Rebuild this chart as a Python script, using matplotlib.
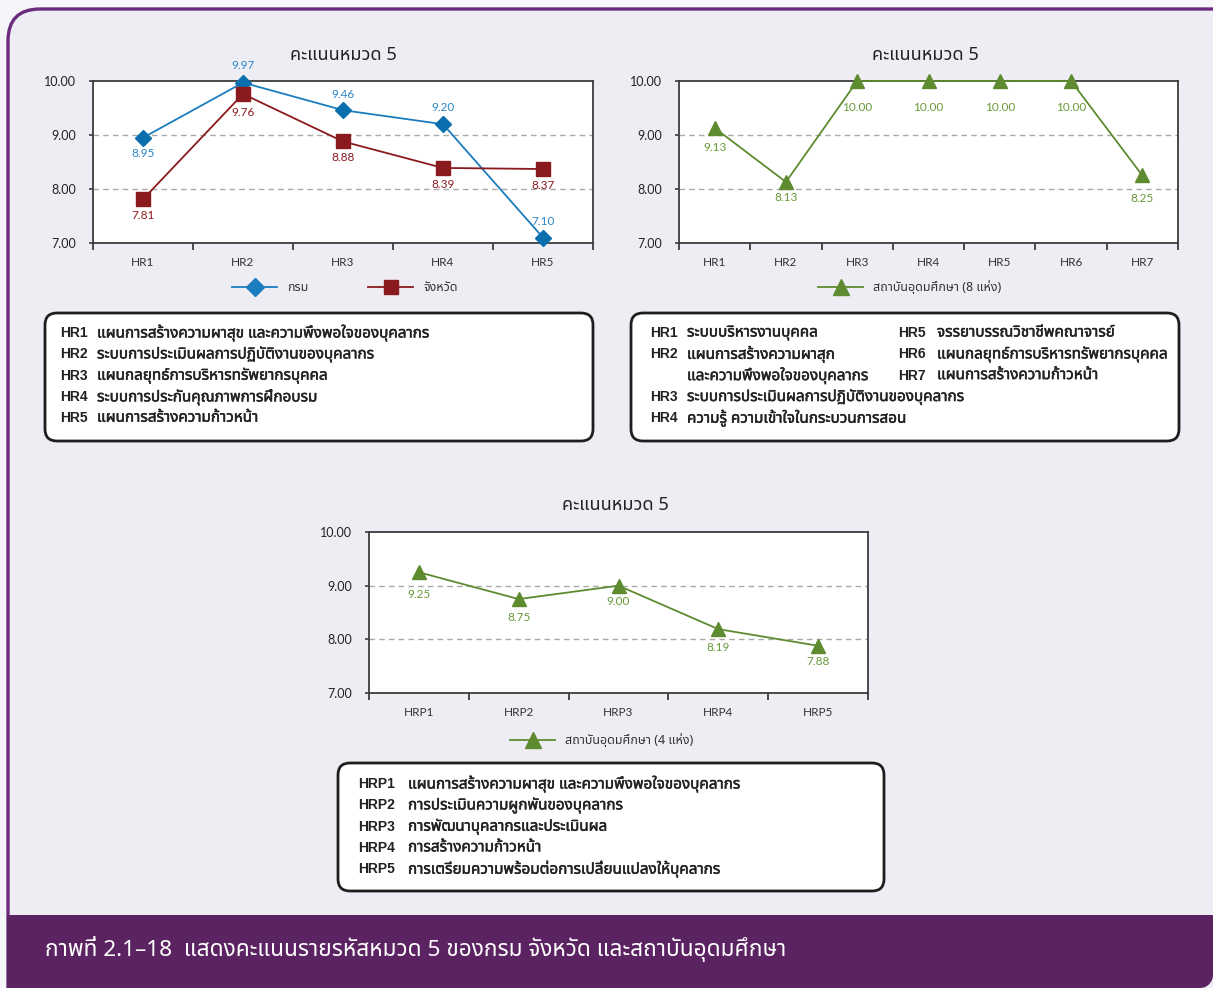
import matplotlib
matplotlib.use("Agg")
import matplotlib.pyplot as plt
from matplotlib import font_manager
from matplotlib import patheffects
from matplotlib.ft2font import FT2Font
from matplotlib.patches import FancyBboxPatch, Rectangle, Circle

# ---------------------------------------------------------------- data
title_text = "คะแนนหมวด 5"

cats_1 = ["HR1", "HR2", "HR3", "HR4", "HR5"]
dept_vals = [8.95, 9.97, 9.46, 9.20, 7.10]
prov_vals = [7.81, 9.76, 8.88, 8.39, 8.37]
dept_name = "กรม"
prov_name = "จังหวัด"

cats_2 = ["HR1", "HR2", "HR3", "HR4", "HR5", "HR6", "HR7"]
uni8_vals = [9.13, 8.13, 10.00, 10.00, 10.00, 10.00, 8.25]
uni8_name = "สถาบันอุดมศึกษา (8 แห่ง)"

cats_3 = ["HRP1", "HRP2", "HRP3", "HRP4", "HRP5"]
uni4_vals = [9.25, 8.75, 9.00, 8.19, 7.88]
uni4_name = "สถาบันอุดมศึกษา (4 แห่ง)"

y_ticks = [7, 8, 9, 10]

notes_1 = [
    ("HR1", "แผนการสร้างความผาสุข และความพึงพอใจของบุคลากร"),
    ("HR2", "ระบบการประเมินผลการปฏิบัติงานของบุคลากร"),
    ("HR3", "แผนกลยุทธ์การบริหารทรัพยากรบุคคล"),
    ("HR4", "ระบบการประกันคุณภาพการฝึกอบรม"),
    ("HR5", "แผนการสร้างความก้าวหน้า"),
]
notes_2_left = [
    ("HR1", "ระบบบริหารงานบุคคล"),
    ("HR2", "แผนการสร้างความผาสุก"),
    ("", "และความพึงพอใจของบุคลากร"),
    ("HR3", "ระบบการประเมินผลการปฏิบัติงานของบุคลากร"),
    ("HR4", "ความรู้ ความเข้าใจในกระบวนการสอน"),
]
notes_2_right = [
    ("HR5", "จรรยาบรรณวิชาชีพคณาจารย์"),
    ("HR6", "แผนกลยุทธ์การบริหารทรัพยากรบุคคล"),
    ("HR7", "แผนการสร้างความก้าวหน้า"),
]
notes_3 = [
    ("HRP1", "แผนการสร้างความผาสุข และความพึงพอใจของบุคลากร"),
    ("HRP2", "การประเมินความผูกพันของบุคลากร"),
    ("HRP3", "การพัฒนาบุคลากรและประเมินผล"),
    ("HRP4", "การสร้างความก้าวหน้า"),
    ("HRP5", "การเตรียมความพร้อมต่อการเปลี่ยนแปลงให้บุคลากร"),
]

caption = "กาพที่ 2.1–18  แสดงคะแนนรายรหัสหมวด 5 ของกรม จังหวัด และสถาบันอุดมศึกษา"


# ---------------------------------------------------------------- fonts
def families_with(codepoint):
    names = []
    for entry in font_manager.fontManager.ttflist:
        if entry.name in names:
            continue
        try:
            cmap = FT2Font(entry.fname).get_charmap()
        except Exception:
            continue
        if codepoint in cmap:
            names.append(entry.name)
    return names


thai_fams = families_with(0x0E01)
preferred = ["Noto Sans Thai", "Noto Sans Thai UI", "Noto Sans Thai Looped",
             "Sarabun", "Kanit", "Prompt", "Tahoma", "Loma", "Garuda",
             "Waree", "Umpush", "Norasi", "Kinnari", "Laksaman", "Sawasdee"]
thai_pick = [f for f in preferred if f in thai_fams] + \
            [f for f in thai_fams if f not in preferred]
THAI = thai_pick[:1]

FAM_NUM = ["Lato", "DejaVu Sans"]
FAM_MIX = THAI + ["Lato", "DejaVu Sans"]
FAM_NOTE_LATIN = ["Liberation Sans", "DejaVu Sans"]
FAM_NOTE_THAI = THAI + ["Liberation Sans", "DejaVu Sans"]

INK = "#222222"
SEMI = [patheffects.withStroke(linewidth=0.35, foreground=INK)]

# ---------------------------------------------------------------- canvas
W, H = 1213, 988
fig = plt.figure(figsize=(W / 100, H / 100), dpi=100)
fig.patch.set_facecolor("#F6F5F9")

bg = fig.add_axes([0, 0, 1, 1])
bg.set_xlim(0, W)
bg.set_ylim(H, 0)
bg.axis("off")
bg.set_zorder(0)

PURPLE_LINE = "#6C2B7C"
PURPLE_BAND = "#5C2363"
PANEL = "#EFEDF4"

frame = FancyBboxPatch((8, 9), W + 60, H + 60,
                       boxstyle="round,pad=0,rounding_size=32",
                       facecolor=PANEL, edgecolor=PURPLE_LINE, linewidth=2.4)
bg.add_patch(frame)

# caption band with a rounded lower-right corner
r = 13
bg.add_patch(Rectangle((7, 915), W - 7 - r, H - 915, facecolor=PURPLE_BAND,
                       edgecolor="none"))
bg.add_patch(Rectangle((W - r - 1, 915), r + 1, H - 915 - r,
                       facecolor=PURPLE_BAND, edgecolor="none"))
bg.add_patch(Circle((W - r, H - r), r, facecolor=PURPLE_BAND,
                    edgecolor="none"))
bg.text(45, 949, caption, color="white", fontsize=16.3, va="center",
        ha="left", family=FAM_MIX)


def px_axes(x0, y0, x1, y1):
    ax = fig.add_axes([x0 / W, 1 - y1 / H, (x1 - x0) / W, (y1 - y0) / H])
    ax.set_zorder(2)
    return ax


def style_axes(ax, cats):
    n = len(cats)
    ax.set_facecolor("white")
    ax.set_xlim(-0.5, n - 0.5)
    ax.set_ylim(7, 10)
    for s in ax.spines.values():
        s.set_color("#3C3C3C")
        s.set_linewidth(1.3)
    ax.set_xticks(range(n))
    ax.set_xticklabels(cats, family=FAM_NUM, fontsize=8.5, color="#333333")
    ax.set_xticks([i - 0.5 for i in range(n + 1)], minor=True)
    ax.tick_params(axis="x", which="major", length=0, pad=10)
    ax.tick_params(axis="x", which="minor", length=5, width=1.3,
                   color="#3C3C3C", direction="out")
    ax.set_yticks(y_ticks)
    ax.set_yticklabels([f"{v:.2f}" for v in y_ticks], family=FAM_NUM,
                       fontsize=9, color=INK)
    ax.tick_params(axis="y", length=3, width=1.2, color="#3C3C3C", pad=9.5)
    for g in (8, 9):
        ax.axhline(g, color="#A9A9A9", lw=1.0, ls=(0, (4, 3)), zorder=1)


def label_points(ax, vals, color, offsets):
    for i, (v, off) in enumerate(zip(vals, offsets)):
        ax.annotate(f"{v:.2f}", (i, v), xytext=(0, off),
                    textcoords="offset pixels", ha="center", va="center",
                    fontsize=8.5, color=color, family=FAM_NUM,
                    annotation_clip=False, zorder=5)


def legend_item(x, y, color, marker, msize, text):
    bg.plot([x, x + 45], [y, y], color=color, lw=1.3, zorder=3)
    bg.plot([x + 22.5], [y], marker=marker, ms=msize, color=color,
            mec=color, zorder=4)
    bg.text(x + 55, y, text, fontsize=9, va="center", ha="left",
            color="#333333", family=FAM_MIX)


def note_box(x0, y0, x1, y1):
    bg.add_patch(FancyBboxPatch((x0, y0), x1 - x0, y1 - y0,
                                boxstyle="round,pad=0,rounding_size=12",
                                facecolor="white", edgecolor="#1E1E1E",
                                linewidth=2.0, zorder=2))


def note_lines(rows, x_code, x_text, y_first, step):
    for k, (code, txt) in enumerate(rows):
        y = y_first + k * step
        if code:
            bg.text(x_code, y, code, fontsize=10, fontweight="bold",
                    va="center", ha="left", color=INK,
                    family=FAM_NOTE_LATIN, zorder=3)
        bg.text(x_text, y, txt, fontsize=11, fontweight="bold",
                va="center", ha="left", color=INK,
                family=FAM_NOTE_THAI, zorder=3, path_effects=SEMI)


BLUE = "#1B7CBF"
BLUE_TXT = "#2A86C6"
RED = "#8B1A1E"
GREEN = "#5E8B30"
GREEN_TXT = "#689A38"

# ---------------------------------------------------------------- chart 1
ax1 = px_axes(93, 81, 593, 243)
style_axes(ax1, cats_1)
x1 = range(len(cats_1))
ax1.plot(x1, dept_vals, color=BLUE, lw=1.3, marker="D", ms=8,
         mfc="#0B6FAE", mec="#0B6FAE", zorder=4, clip_on=False)
ax1.plot(x1, prov_vals, color=RED, lw=1.3, marker="s", ms=9.5,
         mfc=RED, mec=RED, zorder=4, clip_on=False)
label_points(ax1, dept_vals, BLUE_TXT, [-16, 17, 16, 17, 16])
label_points(ax1, prov_vals, RED, [-16, -19, -16, -17, -16])
bg.text(343, 55, title_text, fontsize=13, ha="center", va="center",
        color=INK, family=FAM_MIX)
legend_item(232, 287, BLUE, "D", 9, dept_name)
legend_item(368, 287, RED, "s", 10, prov_name)

# ---------------------------------------------------------------- chart 2
ax2 = px_axes(679, 81, 1178, 243)
style_axes(ax2, cats_2)
ax2.plot(range(len(cats_2)), uni8_vals, color=GREEN, lw=1.3, marker="^",
         ms=10, mfc=GREEN, mec=GREEN, zorder=4, clip_on=False)
label_points(ax2, uni8_vals, GREEN_TXT, [-20, -16, -27, -27, -27, -27, -23])
bg.text(925, 55, title_text, fontsize=13, ha="center", va="center",
        color=INK, family=FAM_MIX)
legend_item(818, 287, GREEN, "^", 11, uni8_name)

# ---------------------------------------------------------------- chart 3
ax3 = px_axes(369, 532, 868, 693)
style_axes(ax3, cats_3)
ax3.plot(range(len(cats_3)), uni4_vals, color=GREEN, lw=1.3, marker="^",
         ms=10, mfc=GREEN, mec=GREEN, zorder=4, clip_on=False)
label_points(ax3, uni4_vals, GREEN_TXT, [-22, -18, -16, -18, -16])
bg.text(615, 505, title_text, fontsize=13, ha="center", va="center",
        color=INK, family=FAM_MIX)
legend_item(510, 740, GREEN, "^", 11, uni4_name)

# ---------------------------------------------------------------- notes
note_box(45, 313, 593, 441)
note_lines(notes_1, 60, 97, 333, 21.3)

note_box(631, 313, 1179, 441)
note_lines(notes_2_left, 650, 687, 333, 21.3)
note_lines(notes_2_right, 898, 937, 333, 21.3)

note_box(338, 763, 884, 891)
note_lines(notes_3, 358, 408, 784, 21.3)

fig.savefig("out.png", dpi=100, facecolor=fig.get_facecolor())
